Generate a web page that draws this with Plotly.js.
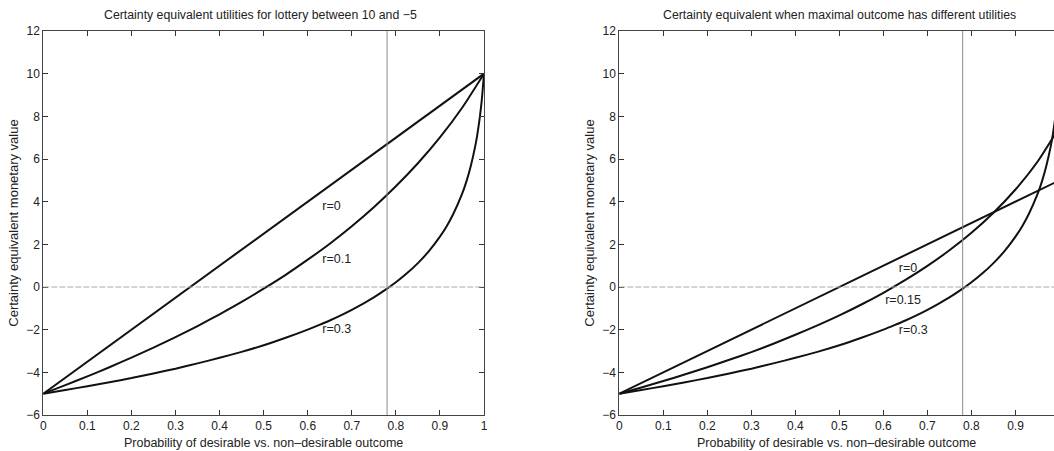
<!DOCTYPE html>
<html>
<head>
<meta charset="utf-8">
<script src="https://cdn.plot.ly/plotly-3.0.1.min.js"></script>
<style>html,body{margin:0;padding:0;background:#fff;}#chart{width:1054px;height:451px;}</style>
</head>
<body>
<div id="chart"></div>
<script>
// Left panel: lottery between 10 and -5
const pLin  = [0, 1];
const leftR0  = [-5, 10];
const pR01  = [0,0.05,0.1,0.15,0.2,0.25,0.3,0.35,0.4,0.45,0.5,0.55,0.6,0.65,0.7,0.75,0.8,0.85,0.9,0.95,1];
const leftR01 = [-5,-4.60,-4.19,-3.76,-3.31,-2.84,-2.35,-1.83,-1.28,-0.70,-0.08,0.57,1.28,2.03,2.85,3.74,4.72,5.80,7.01,8.39,10];
const pR03  = [0,0.05,0.1,0.15,0.2,0.25,0.3,0.35,0.4,0.45,0.5,0.55,0.6,0.625,0.65,0.675,0.7,0.725,0.75,0.775,0.8,0.825,0.85,0.875,0.9,0.915,0.93,0.95,0.96,0.97,0.98,0.985,0.99,0.995,1];
const leftR03 = [-5,-4.83,-4.65,-4.46,-4.27,-4.05,-3.83,-3.58,-3.32,-3.04,-2.73,-2.38,-2.00,-1.79,-1.57,-1.33,-1.07,-0.79,-0.49,-0.15,0.22,0.64,1.12,1.68,2.36,2.84,3.41,4.35,4.94,5.67,6.59,7.17,7.88,8.77,10];
// Right panel: maximal outcome has different utilities
const rightR0   = [-5, 5];
const pR015 = [0,0.05,0.1,0.15,0.2,0.25,0.3,0.35,0.4,0.45,0.5,0.55,0.6,0.65,0.7,0.75,0.8,0.85,0.9,0.95,1];
const rightR015 = [-5,-4.71,-4.41,-4.09,-3.76,-3.41,-3.05,-2.66,-2.24,-1.80,-1.33,-0.82,-0.27,0.33,0.99,1.72,2.54,3.48,4.57,5.87,7.5];
const rightR03  = leftR03;

const labelsLeft  = {x:[0.633,0.633,0.633], y:[3.75,1.25,-2.0], text:["r=0","r=0.1","r=0.3"]};
const labelsRight = {x:[0.635,0.604,0.635], y:[0.85,-0.66,-2.08], text:["r=0","r=0.15","r=0.3"]};

const titleLeft = "Certainty equivalent utilities for lottery between 10 and \u22125";
const titleRight = "Certainty equivalent when maximal outcome has different utilities";
const xTitle = "Probability of desirable vs. non\u2013desirable outcome";
const yTitle = "Certainty equivalent monetary value";
const xTicks = [0,0.1,0.2,0.3,0.4,0.5,0.6,0.7,0.8,0.9,1];
const xTickText = ["0","0.1","0.2","0.3","0.4","0.5","0.6","0.7","0.8","0.9","1"];
const yTicks = [-6,-4,-2,0,2,4,6,8,10,12];
const yTickText = ["\u22126","\u22124","\u22122","0","2","4","6","8","10","12"];
const markerX = 0.78;

const FONT = "Liberation Sans, Arial, Helvetica, sans-serif";
const lineStyle = {color:"#111", width:2, shape:"spline", smoothing:0.6};

function curve(x, y, xa, ya){
  return {x:x, y:y, xaxis:xa, yaxis:ya, mode:"lines", line:lineStyle, showlegend:false, hoverinfo:"skip"};
}
function labels(l, xa, ya){
  return {x:l.x, y:l.y, text:l.text, xaxis:xa, yaxis:ya, mode:"text", textposition:"middle right",
          textfont:{family:FONT, size:12.5, color:"#222"}, showlegend:false, hoverinfo:"skip", cliponaxis:false};
}

const data = [
  curve(pLin, leftR0, "x", "y"),
  curve(pR01, leftR01, "x", "y"),
  curve(pR03, leftR03, "x", "y"),
  labels(labelsLeft, "x", "y"),
  curve(pLin, rightR0, "x2", "y2"),
  curve(pR015, rightR015, "x2", "y2"),
  curve(pR03, rightR03, "x2", "y2"),
  labels(labelsRight, "x2", "y2")
];

function xaxis(domain, anchor, range){
  return {domain:domain, anchor:anchor, range:range, tickvals:xTicks, ticktext:xTickText,
          ticks:"inside", ticklen:5, tickcolor:"#333", showline:true, linecolor:"#444", linewidth:1,
          mirror:"ticks", showgrid:false, zeroline:false,
          tickfont:{family:FONT, size:12, color:"#222"},
          title:{text:xTitle, font:{family:FONT, size:12.5, color:"#222"}, standoff:5}};
}
function yaxis(domain, anchor, mirror){
  return {domain:domain, anchor:anchor, range:[-6,12], tickvals:yTicks, ticktext:yTickText,
          ticks:"inside", ticklen:5, tickcolor:"#333", showline:true, linecolor:"#444", linewidth:1,
          mirror:mirror, showgrid:false, zeroline:false,
          tickfont:{family:FONT, size:12, color:"#222"},
          title:{text:yTitle, font:{family:FONT, size:13, color:"#222"}, standoff:4}};
}

const layout = {
  width:1054, height:451,
  margin:{l:0, r:0, t:0, b:0},
  paper_bgcolor:"#fff", plot_bgcolor:"#fff",
  xaxis: xaxis([43.3/1054, 484/1054], "y", [0,1]),
  yaxis: yaxis([36/451, 420/451], "x", "ticks"),
  xaxis2: xaxis([619.3/1054, 1], "y2", [0,0.9875]),
  yaxis2: yaxis([36/451, 420/451], "x2", false),
  shapes:[
    {type:"line", xref:"x", yref:"y", x0:markerX, x1:markerX, y0:-6, y1:12, line:{color:"#8a8a8a", width:1}},
    {type:"line", xref:"x", yref:"y", x0:0, x1:1, y0:0, y1:0, line:{color:"#aaa", width:1, dash:"6px,2px"}},
    {type:"line", xref:"x2", yref:"y2", x0:markerX, x1:markerX, y0:-6, y1:12, line:{color:"#8a8a8a", width:1}},
    {type:"line", xref:"x2", yref:"y2", x0:0, x1:1, y0:0, y1:0, line:{color:"#aaa", width:1, dash:"6px,2px"}}
  ],
  annotations:[
    {text:titleLeft, xref:"paper", yref:"paper", x:260/1054, y:(451-15)/451, xanchor:"center", yanchor:"middle",
     showarrow:false, font:{family:FONT, size:12.3, color:"#222"}},
    {text:titleRight, xref:"paper", yref:"paper", x:839/1054, y:(451-15)/451, xanchor:"center", yanchor:"middle",
     showarrow:false, font:{family:FONT, size:12.3, color:"#222"}}
  ]
};

Plotly.newPlot("chart", data, layout, {displayModeBar:false, staticPlot:true});
</script>
</body>
</html>
